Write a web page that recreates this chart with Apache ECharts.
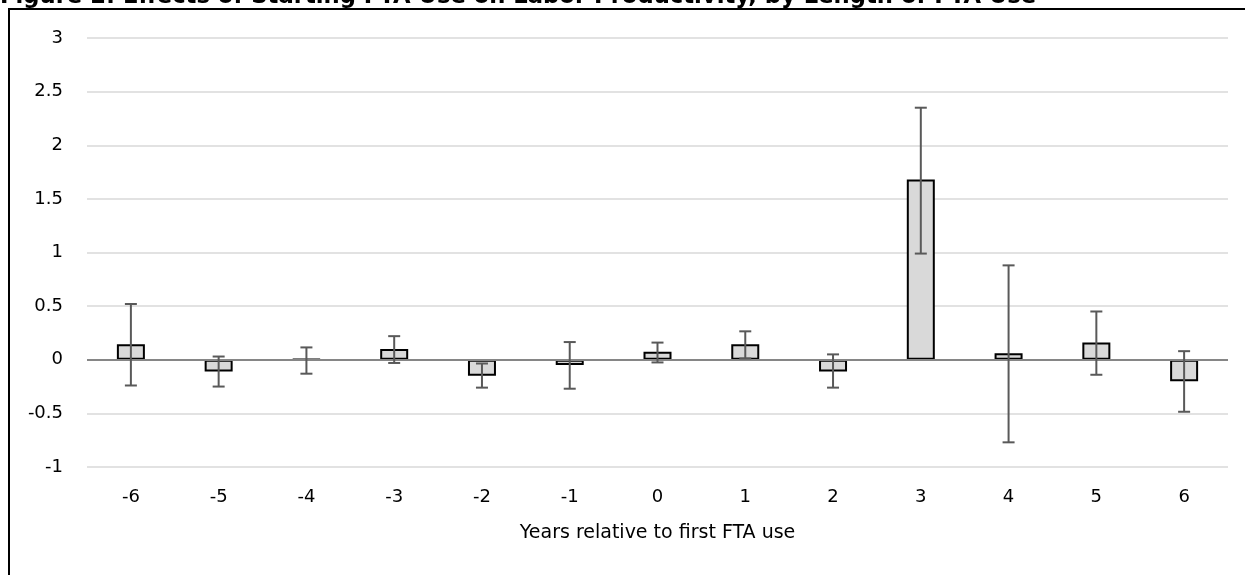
<!DOCTYPE html>
<html>
<head>
<meta charset="utf-8">
<script src="https://cdn.jsdelivr.net/npm/echarts@6/dist/echarts.min.js"></script>
<style>
  html, body { margin: 0; padding: 0; background: #fff; }
  #chart { width: 1245px; height: 575px; }
</style>
</head>
<body>
<div id="chart"></div>
<script>
const years = ['-6', '-5', '-4', '-3', '-2', '-1', '0', '1', '2', '3', '4', '5', '6'];
const effects = [0.145, -0.11, 0.005, 0.10, -0.15, -0.05, 0.075, 0.145, -0.11, 1.68, 0.06, 0.16, -0.20];
const upper = [0.52, 0.03, 0.115, 0.22, -0.035, 0.165, 0.16, 0.265, 0.05, 2.35, 0.88, 0.45, 0.08];
const lower = [-0.24, -0.25, -0.13, -0.03, -0.26, -0.27, -0.025, 0.012, -0.26, 0.99, -0.77, -0.14, -0.485];

const errorData = years.map((y, i) => [i, lower[i], upper[i]]);

const chart = echarts.init(document.getElementById('chart'));

const font = 'DejaVu Sans, Liberation Sans, sans-serif';

const option = {
  animation: false,
  backgroundColor: '#fff',
  graphic: [
    {
      type: 'rect',
      shape: { x: 9, y: 9, width: 1260, height: 600 },
      style: { fill: 'none', stroke: '#000', lineWidth: 2 },
      silent: true
    },
    {
      type: 'text',
      left: 0,
      top: -14,
      style: {
        text: 'Figure 2: Effects of Starting FTA Use on Labor Productivity, by Length of FTA Use',
        font: 'bold 22.7px ' + font,
        fill: '#000'
      },
      silent: true
    }
  ],
  grid: {
    left: 87,
    right: 17,
    top: 38,
    bottom: 108
  },
  xAxis: {
    type: 'category',
    data: years,
    axisLine: { show: false, onZero: false },
    axisTick: { show: false },
    axisLabel: { color: '#000', fontSize: 18, fontFamily: font, margin: 21 },
    name: 'Years relative to first FTA use',
    nameLocation: 'middle',
    nameGap: 57,
    nameTextStyle: { color: '#000', fontSize: 19, fontFamily: font }
  },
  yAxis: {
    type: 'value',
    min: -1,
    max: 3,
    interval: 0.5,
    axisLine: { show: false },
    axisTick: { show: false },
    axisLabel: { color: '#000', fontSize: 18, fontFamily: font, margin: 24 },
    splitLine: { lineStyle: { color: '#d9d9d9', width: 1.5 } }
  },
  series: [
    {
      type: 'bar',
      data: effects,
      barWidth: 28,
      itemStyle: { color: '#d9d9d9', borderColor: '#000', borderWidth: 2 },
      markLine: {
        silent: true,
        symbol: 'none',
        label: { show: false },
        lineStyle: { color: '#868686', width: 2, type: 'solid' },
        data: [{ yAxis: 0 }],
        z: 3
      },
      z: 2
    },
    {
      type: 'custom',
      data: errorData,
      z: 5,
      renderItem: (params, api) => {
        const x = api.value(0);
        const lo = api.coord([x, api.value(1)]);
        const hi = api.coord([x, api.value(2)]);
        const cap = 6;
        const style = { stroke: '#595959', lineWidth: 2 };
        return {
          type: 'group',
          children: [
            { type: 'line', shape: { x1: hi[0], y1: hi[1], x2: lo[0], y2: lo[1] }, style },
            { type: 'line', shape: { x1: hi[0] - cap, y1: hi[1], x2: hi[0] + cap, y2: hi[1] }, style },
            { type: 'line', shape: { x1: lo[0] - cap, y1: lo[1], x2: lo[0] + cap, y2: lo[1] }, style }
          ]
        };
      }
    }
  ]
};

chart.setOption(option);
</script>
</body>
</html>
